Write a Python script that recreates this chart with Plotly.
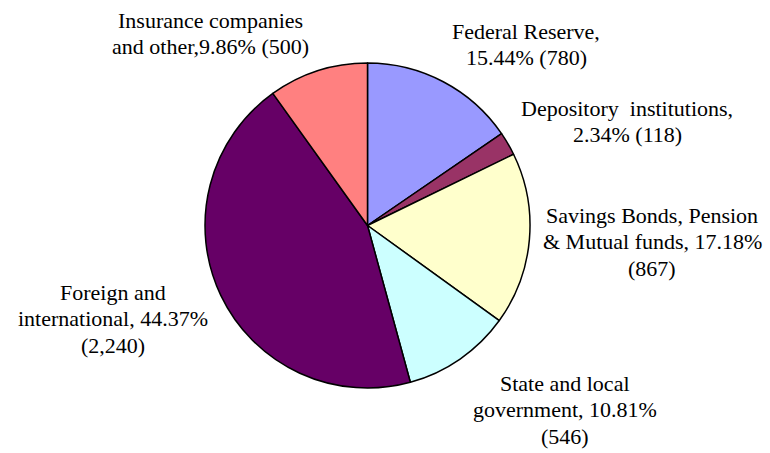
import plotly.graph_objects as go

categories = ["Federal Reserve", "Depository institutions", "Savings Bonds, Pension & Mutual funds",
              "State and local government", "Foreign and international", "Insurance companies and other"]
values = [780, 118, 867, 546, 2240, 500]
colors = ["#9999FF", "#993366", "#FFFFCC", "#CCFFFF", "#660066", "#FF8080"]

label_lines = [
    ["Federal Reserve,", "15.44% (780)"],
    ["Depository  institutions,", "2.34% (118)"],
    ["Savings Bonds, Pension", "& Mutual funds, 17.18%", "(867)"],
    ["State and local", "government, 10.81%", "(546)"],
    ["Foreign and", "international, 44.37%", "(2,240)"],
    ["Insurance companies", "and other,9.86% (500)"],
]
# label centre x and first-line y in pixels
label_pos = [(526, 31), (627, 108), (652, 215), (565, 383), (113, 292), (211, 20)]
LINE = 26.5
W, H = 770, 453
FONT = "Liberation Serif, DejaVu Serif, serif"

fig = go.Figure(go.Pie(
    labels=categories, values=values, sort=False, direction="clockwise", rotation=0,
    marker=dict(colors=colors, line=dict(color="black", width=1.5)),
    textinfo="none", hoverinfo="skip", showlegend=False,
    domain=dict(x=[205 / W, 530 / W], y=[1 - 388 / H, 1 - 63 / H]),
))

anns = []
for lines, (px, py) in zip(label_lines, label_pos):
    for i, t in enumerate(lines):
        anns.append(dict(x=px / W, y=1 - (py + i * LINE) / H, xref="paper", yref="paper",
                         text=t, showarrow=False, xanchor="center", yanchor="middle",
                         font=dict(family=FONT, size=22, color="black")))

fig.update_layout(width=W, height=H, margin=dict(l=0, r=0, t=0, b=0),
                  font=dict(family=FONT),
                  paper_bgcolor="white", plot_bgcolor="white", annotations=anns)
fig.write_html("out.html")
